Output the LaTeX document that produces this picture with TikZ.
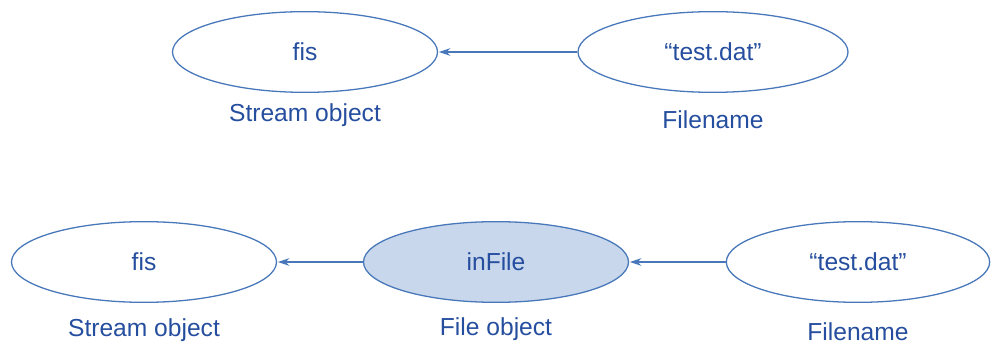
\documentclass[tikz,border=0pt]{standalone}
\usepackage{fontspec}
\setmainfont{Liberation Sans}
\usetikzlibrary{arrows.meta,shapes.geometric}
\definecolor{lineblue}{RGB}{72,120,186}
\definecolor{textblue}{RGB}{38,78,158}
\definecolor{fillblue}{RGB}{200,215,236}

\begin{document}
\begin{tikzpicture}[>={Stealth[length=10pt,width=6.5pt]},x=0.03cm,y=-0.03cm,
    obj/.style={ellipse,draw=lineblue,line width=1.1pt,minimum width=7.95cm,minimum height=2.42cm,
        text=textblue,font=\fontsize{21}{25}\selectfont},
    lbl/.style={text=textblue,font=\fontsize{21}{25}\selectfont},
    link/.style={->,draw=lineblue,line width=1.2pt,shorten >=0.5pt}]
            \useasboundingbox (0,0) rectangle (992,347);
            % top row
            \node[obj] (fisA) at (305,52) {fis};
            \node[obj,minimum width=8.1cm] (datA) at (713,52) {``test.dat''};
            \node[lbl] (sA) at (305,115) {Stream object};
            \node[lbl] (fA) at (713,120) {Filename};
            \draw[link] (datA) -- (fisA);
            % bottom row
            \node[obj] (fisB) at (144,262) {fis};
            \node[obj,fill=fillblue] (inB) at (496,262) {inFile};
            \node[obj,minimum width=7.9cm] (datB) at (858,262) {``test.dat''};
            \node[lbl] (sB) at (144,330) {Stream object};
            \node[lbl] (iB) at (496,329) {File object};
            \node[lbl] (fB) at (858,332) {Filename};
            \draw[link] (inB) -- (fisB);
            \draw[link] (datB) -- (inB);
        \end{tikzpicture}
\end{document}
